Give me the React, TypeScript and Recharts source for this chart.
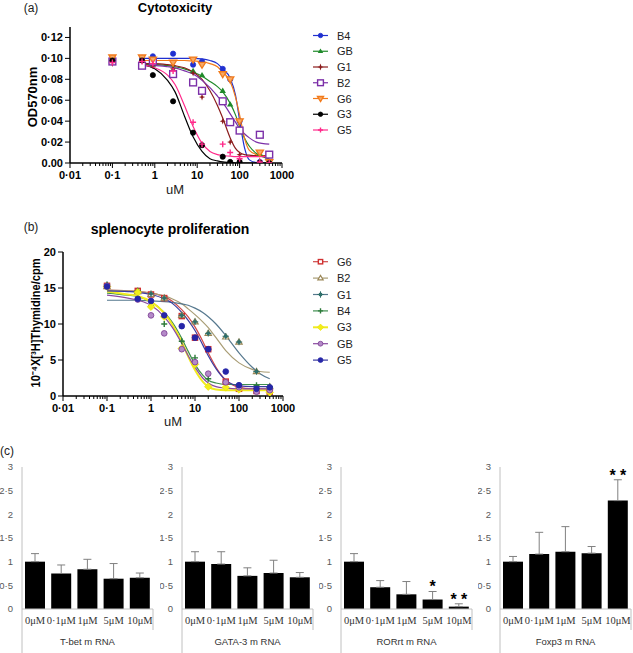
import React from 'react';
import { ComposedChart, Line, Scatter, XAxis, YAxis, Bar, ErrorBar } from 'recharts';

const SANS = '"Liberation Sans", Arial, sans-serif';
const SERIF = '"Liberation Serif", "Times New Roman", serif';

// ---------- panel (a): cytotoxicity ----------
const CONC_A = [0.1, 0.5, 0.9, 2.7, 8, 13, 40, 60, 100, 300, 500];
const PTS_A_B4 = [0.1, 0.1005, 0.102, 0.1045, 0.094, 0.097, 0.09, 0.08, 0.04, 0.001, 0.0];
const PTS_A_GB = [0.098, 0.094, 0.094, 0.089, 0.088, 0.084, 0.069, 0.056, 0.031, 0.009, 0.001];
const PTS_A_G1 = [0.095, 0.098, 0.093, 0.09, 0.086, 0.063, 0.04, 0.02, 0.008, 0.002, 0.001];
const PTS_A_B2 = [0.097, 0.093, 0.097, 0.085, 0.077, 0.069, 0.059, 0.039, 0.031, 0.027, 0.008];
const PTS_A_G6 = [0.101, 0.101, 0.099, 0.096, 0.099, 0.094, 0.085, 0.08, 0.04, 0.01, 0.001];
const PTS_A_G3 = [0.098, 0.098, 0.084, 0.059, 0.029, 0.017, 0.006, 0.001, 0.001, 0.0, 0.0];
const PTS_A_G5 = [0.096, 0.097, 0.095, 0.088, 0.039, 0.018, 0.018, 0.01, 0.004, 0.001, 0.0];

const FIT_X_A = [0.5, 1, 2, 3, 5, 8, 13, 20, 30, 40, 60, 80, 100, 130, 170, 250, 500];
const FIT_A_B4 = [0.1, 0.1, 0.1, 0.1, 0.1, 0.1, 0.0995, 0.098, 0.095, 0.09, 0.081, 0.065, 0.041, 0.015, 0.003, 0.0005, 0];
const FIT_A_GB = [0.094, 0.094, 0.093, 0.092, 0.09, 0.087, 0.083, 0.078, 0.073, 0.068, 0.057, 0.046, 0.035, 0.024, 0.016, 0.009, 0.004];
const FIT_A_G1 = [0.095, 0.095, 0.094, 0.093, 0.091, 0.087, 0.08, 0.069, 0.055, 0.043, 0.024, 0.014, 0.01, 0.008, 0.0075, 0.007, 0.007];
const FIT_A_B2 = [0.093, 0.093, 0.092, 0.091, 0.088, 0.085, 0.079, 0.072, 0.064, 0.058, 0.047, 0.039, 0.033, 0.028, 0.024, 0.02, 0.018];
const FIT_A_G6 = [0.098, 0.098, 0.098, 0.098, 0.098, 0.0975, 0.097, 0.095, 0.092, 0.087, 0.078, 0.063, 0.046, 0.024, 0.012, 0.008, 0.006];
const FIT_A_G3 = [0.094, 0.09, 0.079, 0.068, 0.045, 0.025, 0.011, 0.004, 0.002, 0.001, 0.0005, 0, 0, 0, 0, 0, 0];
const FIT_A_G5 = [0.094, 0.091, 0.084, 0.075, 0.055, 0.035, 0.019, 0.011, 0.008, 0.007, 0.0065, 0.006, 0.006, 0.006, 0.006, 0.006, 0.006];

const SERIES_A = [
  { name: 'B4', pts: PTS_A_B4, fit: FIT_A_B4, color: '#2030d0', kind: 'circle' },
  { name: 'GB', pts: PTS_A_GB, fit: FIT_A_GB, color: '#1f8a2a', kind: 'tri' },
  { name: 'G1', pts: PTS_A_G1, fit: FIT_A_G1, color: '#8b1c1c', kind: 'spark' },
  { name: 'B2', pts: PTS_A_B2, fit: FIT_A_B2, color: '#7b2fa8', kind: 'square' },
  { name: 'G6', pts: PTS_A_G6, fit: FIT_A_G6, color: '#f27a1a', kind: 'triDown', fill: '#f8aa66' },
  { name: 'G3', pts: PTS_A_G3, fit: FIT_A_G3, color: '#000000', kind: 'circle' },
  { name: 'G5', pts: PTS_A_G5, fit: FIT_A_G5, color: '#ff2a8a', kind: 'plus' },
];

const YTICKS_A = [0, 0.02, 0.04, 0.06, 0.08, 0.1, 0.12];
const YLABELS_A = ['0.00', '0·02', '0·04', '0·06', '0·08', '0·10', '0·12'];

// ---------- panel (b): splenocyte proliferation ----------
const CONC_B = [0.1, 0.5, 1, 2, 5, 10, 20, 50, 100, 250, 500];
const PTS_B_G6 = [15.3, 14.6, 14.1, 13.6, 11.1, 8.1, 6.5, 2.0, 1.0, 0.7, 0.6];
const PTS_B_B2 = [15.2, 14.5, 14.1, 13.6, 11.2, 10.3, 8.7, 8.2, 7.5, 3.4, 1.3];
const PTS_B_G1 = [15.5, 14.6, 14.2, 13.6, 11.2, 10.3, 8.7, 8.3, 7.5, 3.4, 1.3];
const PTS_B_B4 = [15.4, 14.6, 12.5, 10.0, 7.6, 5.3, 2.4, 1.9, 1.5, 1.5, 1.2];
const PTS_B_G3 = [15.2, 14.4, 12.4, 11.0, 6.6, 4.4, 1.3, 1.2, 0.9, 0.8, 0.5];
const PTS_B_GB = [15.3, 13.4, 11.2, 8.7, 6.5, 4.7, 3.1, 1.9, 1.2, 0.6, 0.8];
const PTS_B_G5 = [15.2, 13.5, 13.2, 11.2, 9.7, 8.1, 6.5, 3.4, 1.5, 1.0, 1.2];

const FIT_X_B = [0.1, 0.3, 0.5, 1, 2, 3, 5, 7, 10, 15, 20, 30, 50, 100, 200, 300, 500];
const FIT_B_G6 = [14.7, 14.6, 14.5, 14.3, 13.8, 13.2, 12.0, 11.0, 9.6, 7.6, 6.0, 4.0, 2.2, 1.2, 1.0, 1.0, 1.0];
const FIT_B_B2 = [14.7, 14.6, 14.5, 14.3, 13.9, 13.5, 12.8, 12.1, 11.3, 10.3, 9.5, 8.1, 6.3, 4.6, 3.7, 3.4, 3.3];
const FIT_B_G1 = [13.3, 13.3, 13.3, 13.2, 13.1, 13.0, 12.8, 12.6, 12.2, 11.6, 11.0, 10.0, 8.4, 6.0, 4.0, 3.1, 2.4];
const FIT_B_B4 = [14.3, 14.0, 13.8, 13.1, 11.6, 10.3, 8.0, 6.2, 4.4, 2.9, 2.2, 1.8, 1.6, 1.6, 1.6, 1.6, 1.6];
const FIT_B_G3 = [14.5, 14.1, 13.9, 13.1, 11.5, 10.0, 7.5, 5.5, 3.6, 2.0, 1.3, 0.9, 0.8, 0.8, 0.8, 0.8, 0.8];
const FIT_B_GB = [14.0, 13.6, 13.3, 12.6, 11.0, 9.6, 7.3, 5.6, 4.0, 2.5, 1.8, 1.3, 1.1, 1.0, 1.0, 1.0, 1.0];
const FIT_B_G5 = [14.6, 14.5, 14.4, 14.1, 13.5, 12.9, 11.6, 10.5, 9.1, 7.1, 5.6, 3.8, 2.2, 1.4, 1.3, 1.3, 1.3];

const SERIES_B = [
  { name: 'G6', pts: PTS_B_G6, fit: FIT_B_G6, color: '#d03030', line: '#d04848', kind: 'square', s: 0.75 },
  { name: 'B2', pts: PTS_B_B2, fit: FIT_B_B2, color: '#9a8656', line: '#a89c74', kind: 'triOpen' },
  { name: 'G1', pts: PTS_B_G1, fit: FIT_B_G1, color: '#2f6f6a', line: '#56788e', kind: 'star' },
  { name: 'B4', pts: PTS_B_B4, fit: FIT_B_B4, color: '#2d7a3a', line: '#3f8f50', kind: 'plus' },
  { name: 'G3', pts: PTS_B_G3, fit: FIT_B_G3, color: '#f3ee1a', line: '#f0ea20', kind: 'diamond' },
  { name: 'GB', pts: PTS_B_GB, fit: FIT_B_GB, color: '#7a3a90', line: '#8a4aa0', kind: 'circle', fill: '#b48ac8', s: 1.1 },
  { name: 'G5', pts: PTS_B_G5, fit: FIT_B_G5, color: '#2626a8', line: '#3a3aa0', kind: 'circle', s: 1.1 },
];

const YTICKS_B = [0, 5, 10, 15, 20];

// shared log axis ticks
const DECADES = [0.01, 0.1, 1, 10, 100, 1000];
const DECADE_LABELS = ['0·01', '0·1', '1', '10', '100', '1000'];
const MINOR: number[] = [];
DECADES.slice(0, -1).forEach((d) => {
  for (let m = 2; m <= 9; m++) MINOR.push(d * m);
});
const LOG_TICKS = [...DECADES, ...MINOR].sort((p, q) => p - q);

// ---------- panel (c): mRNA bars ----------
const DOSES = ['0μM', '0·1μM', '1μM', '5μM', '10μM'];
const TBET = [1.0, 0.75, 0.84, 0.64, 0.66];
const TBET_ERR = [0.17, 0.18, 0.21, 0.32, 0.1];
const GATA3 = [1.0, 0.95, 0.7, 0.76, 0.67];
const GATA3_ERR = [0.21, 0.26, 0.17, 0.27, 0.1];
const RORRT = [1.0, 0.46, 0.31, 0.2, 0.05];
const RORRT_ERR = [0.17, 0.14, 0.27, 0.17, 0.06];
const RORRT_SIG = ['', '', '', '*', '* *'];
const FOXP3 = [1.0, 1.16, 1.21, 1.18, 2.29];
const FOXP3_ERR = [0.11, 0.46, 0.53, 0.14, 0.44];
const FOXP3_SIG = ['', '', '', '', '* *'];
const NO_SIG = ['', '', '', '', ''];
const YTICKS_C = [0, 0.5, 1, 1.5, 2, 2.5, 3];

const GENES = [
  { title: 'T-bet m RNA', vals: TBET, err: TBET_ERR, sig: NO_SIG, axisX: 22 },
  { title: 'GATA-3 m RNA', vals: GATA3, err: GATA3_ERR, sig: NO_SIG, axisX: 182 },
  { title: 'RORrt m RNA', vals: RORRT, err: RORRT_ERR, sig: RORRT_SIG, axisX: 341 },
  { title: 'Foxp3 m RNA', vals: FOXP3, err: FOXP3_ERR, sig: FOXP3_SIG, axisX: 500 },
];

// ---------- markers ----------
function Marker({ kind, cx, cy, color, fill, s = 1 }: any) {
  if (cx == null || cy == null || isNaN(cx) || isNaN(cy)) return null;
  switch (kind) {
    case 'circle':
      return <circle cx={cx} cy={cy} r={2.6 * s} fill={fill ?? color} stroke={color} strokeWidth={0.8} />;
    case 'tri': {
      const r = 3.2 * s;
      return <polygon points={`${cx},${cy - r} ${cx + r},${cy + r * 0.65} ${cx - r},${cy + r * 0.65}`} fill={color} />;
    }
    case 'triOpen': {
      const r = 3.2 * s;
      return <polygon points={`${cx},${cy - r} ${cx + r},${cy + r * 0.65} ${cx - r},${cy + r * 0.65}`} fill="#fff" stroke={color} strokeWidth={1.1} />;
    }
    case 'triDown': {
      const r = 3.6 * s;
      return <polygon points={`${cx},${cy + r} ${cx + r},${cy - r * 0.65} ${cx - r},${cy - r * 0.65}`} fill={fill} stroke={color} strokeWidth={1.3} />;
    }
    case 'square': {
      const h = 3.4 * s;
      return <rect x={cx - h} y={cy - h} width={2 * h} height={2 * h} fill="#fff" stroke={color} strokeWidth={1.4} />;
    }
    case 'plus': {
      const h = 3 * s;
      return <path d={`M${cx - h},${cy}H${cx + h}M${cx},${cy - h}V${cy + h}`} stroke={color} strokeWidth={1.4} />;
    }
    case 'spark':
      return (
        <path
          d={`M${cx},${cy - 3.4} L${cx + 1.2},${cy} L${cx},${cy + 3.4} L${cx - 1.2},${cy} Z M${cx - 3.1},${cy} L${cx},${cy - 1.1} L${cx + 3.1},${cy} L${cx},${cy + 1.1} Z`}
          fill={color}
        />
      );
    case 'star':
      return (
        <g>
          <circle cx={cx} cy={cy} r={1.9} fill={color} />
          <path d={`M${cx - 3.2},${cy}H${cx + 3.2}M${cx},${cy - 3.2}V${cy + 3.2}`} stroke={color} strokeWidth={1} />
        </g>
      );
    case 'diamond': {
      const r = 3.8 * s;
      return <polygon points={`${cx},${cy - r} ${cx + r},${cy} ${cx},${cy + r} ${cx - r},${cy}`} fill={color} stroke="#e8e000" strokeWidth={0.6} />;
    }
    default:
      return null;
  }
}

// ---------- axis ticks ----------
const LogTick = (props: any) => {
  const { x, y, payload } = props;
  const i = DECADES.indexOf(payload.value);
  const major = i >= 0;
  return (
    <g>
      <line x1={x} x2={x} y1={y} y2={y + (major ? 5 : 3)} stroke="#000" strokeWidth={1} />
      {major && (
        <text x={x} y={y + 16} textAnchor="middle" fontFamily={SANS} fontWeight="bold" fontSize={11} fill="#000">
          {DECADE_LABELS[i]}
        </text>
      )}
    </g>
  );
};

const makeYTick = (labels?: string[], ticks?: number[]) => (props: any) => {
  const { x, y, payload } = props;
  const label = labels && ticks ? labels[ticks.indexOf(payload.value)] : String(payload.value);
  return (
    <g>
      <line x1={x - 5} x2={x} y1={y} y2={y} stroke="#000" strokeWidth={1} />
      <text x={x - 7} y={y + 4} textAnchor="end" fontFamily={SANS} fontWeight="bold" fontSize={11} fill="#000">
        {label}
      </text>
    </g>
  );
};

// ---------- dose-response panel ----------
function DosePanel({ series, conc, fitX, yMax, yTicks, yTick, width, height, margin, lineWidth }: any) {
  return (
    <ComposedChart width={width} height={height} margin={margin}>
      <XAxis
        type="number"
        dataKey="x"
        scale="log"
        domain={[0.01, 1000]}
        allowDataOverflow
        ticks={LOG_TICKS}
        interval={0}
        tick={<LogTick />}
        tickLine={false}
        tickSize={0}
        tickMargin={0}
        height={30}
        axisLine={{ stroke: '#000', strokeWidth: 1.5 }}
      />
      <YAxis
        type="number"
        dataKey="y"
        domain={[0, yMax]}
        allowDataOverflow
        ticks={yTicks}
        interval={0}
        tick={yTick}
        tickLine={false}
        tickSize={0}
        tickMargin={0}
        width={40}
        axisLine={{ stroke: '#000', strokeWidth: 1.5 }}
      />
      {series.map((s: any) => (
        <Line
          key={'fit' + s.name}
          data={s.fit.map((y: number, i: number) => ({ x: fitX[i], y }))}
          dataKey="y"
          type="monotone"
          stroke={s.line ?? s.color}
          strokeWidth={s.name === 'G3' && s.line ? 2 : lineWidth}
          dot={false}
          activeDot={false}
          isAnimationActive={false}
        />
      ))}
      {series.map((s: any) => (
        <Scatter
          key={'pts' + s.name}
          data={s.pts.map((y: number, i: number) => ({ x: conc[i], y }))}
          dataKey="y"
          isAnimationActive={false}
          shape={(p: any) => <Marker kind={s.kind} cx={p.cx} cy={p.cy} color={s.color} fill={s.fill} s={s.s ?? 1} />}
        />
      ))}
    </ComposedChart>
  );
}

// ---------- bar panel ----------
function GenePanel({ gene }: any) {
  const data = DOSES.map((dose, i) => ({
    dose,
    v: gene.vals[i],
    e: [0, gene.err[i]],
    top: gene.vals[i] + gene.err[i],
    sig: gene.sig[i],
  }));
  return (
    <ComposedChart width={155} height={193} data={data} margin={{ top: 7, right: 2, bottom: 24, left: 0 }}>
      <XAxis
        dataKey="dose"
        interval={0}
        tickLine={false}
        axisLine={{ stroke: '#c0c0c0' }}
        height={20}
        tick={{ fontFamily: SERIF, fontSize: 10.5, fill: '#333' }}
      />
      <YAxis
        type="number"
        domain={[0, 3]}
        ticks={YTICKS_C}
        interval={0}
        width={22}
        tickLine={false}
        tickMargin={3}
        axisLine={{ stroke: '#c0c0c0' }}
        tickFormatter={(v: number) => String(v).replace('.', '·')}
        tick={{ fontFamily: SANS, fontSize: 9.5, fill: '#595959' }}
      />
      <Bar dataKey="v" fill="#000" barSize={20} isAnimationActive={false}>
        <ErrorBar dataKey="e" width={4} stroke="#808080" strokeWidth={1} direction="y" />
      </Bar>
      <Scatter
        dataKey="top"
        isAnimationActive={false}
        shape={(p: any) =>
          p.payload && p.payload.sig ? (
            <text x={p.cx} y={p.cy + 1} textAnchor="middle" fontFamily={SANS} fontWeight="bold" fontSize={16} fill="#000">
              {p.payload.sig}
            </text>
          ) : (
            <g />
          )
        }
      />
    </ComposedChart>
  );
}

function LegendRows({ series, x, y0, dy }: any) {
  return (
    <g>
      {series.map((s: any, i: number) => {
        const y = y0 + i * dy;
        return (
          <g key={s.name}>
            <line x1={x} x2={x + 15} y1={y} y2={y} stroke={s.line ?? s.color} strokeWidth={s.name === 'G3' && s.line ? 2 : 1.2} />
            <Marker kind={s.kind} cx={x + 7.5} cy={y} color={s.color} fill={s.fill} s={(s.s ?? 1) * 0.85} />
            <text x={x + 24} y={y + 4} fontFamily={SANS} fontSize={11} fill="#222">
              {s.name}
            </text>
          </g>
        );
      })}
    </g>
  );
}

export default function App() {
  return (
    <div style={{ position: 'absolute', left: 0, top: 0, width: 633, height: 653, background: '#fff', overflow: 'hidden' }}>
      <div style={{ position: 'absolute', left: 0, top: 0 }}>
        <DosePanel
          series={SERIES_A}
          conc={CONC_A}
          fitX={FIT_X_A}
          yMax={0.13}
          yTicks={YTICKS_A}
          yTick={makeYTick(YLABELS_A, YTICKS_A)}
          width={300}
          height={200}
          margin={{ top: 27, right: 18, bottom: 7, left: 30 }}
          lineWidth={1.2}
        />
      </div>
      <div style={{ position: 'absolute', left: 0, top: 190 }}>
        <DosePanel
          series={SERIES_B}
          conc={CONC_B}
          fitX={FIT_X_B}
          yMax={20}
          yTicks={YTICKS_B}
          yTick={makeYTick()}
          width={300}
          height={240}
          margin={{ top: 62, right: 17, bottom: 4, left: 23 }}
          lineWidth={1.2}
        />
      </div>
      {GENES.map((g) => (
        <div key={g.title} style={{ position: 'absolute', left: g.axisX - 22, top: 460 }}>
          <GenePanel gene={g} />
        </div>
      ))}
      <svg width={633} height={653} style={{ position: 'absolute', left: 0, top: 0, pointerEvents: 'none' }}>
        <g fontFamily={SANS}>
          <text x={31} y={12} textAnchor="middle" fontSize={12} fill="#222">(a)</text>
          <text x={175} y={12} textAnchor="middle" fontSize={13} fontWeight="bold" fill="#000">Cytotoxicity</text>
          <text x={0} y={0} transform="translate(37,97) rotate(-90)" textAnchor="middle" fontSize={13} fontWeight="bold" fill="#000">OD570nm</text>
          <text x={175} y={194} textAnchor="middle" fontSize={13} fill="#222">uM</text>
          <LegendRows series={SERIES_A} x={313} y0={35.5} dy={15.75} />

          <text x={31} y={231} textAnchor="middle" fontSize={12} fill="#222">(b)</text>
          <text x={170} y={234} textAnchor="middle" fontSize={14} fontWeight="bold" fill="#000">splenocyte proliferation</text>
          <text x={0} y={0} transform="translate(40,323) rotate(-90)" textAnchor="middle" fontSize={12} fontWeight="bold" fill="#000" textLength={129} lengthAdjust="spacingAndGlyphs">
            10⁻⁴X[³H]Thymidine/cpm
          </text>
          <text x={173} y={426} textAnchor="middle" fontSize={13} fill="#222">uM</text>
          <LegendRows series={SERIES_B} x={313} y0={261.7} dy={16.4} />

          <text x={7} y={455} textAnchor="middle" fontSize={12} fill="#222">(c)</text>
          {GENES.map((g) => (
            <g key={'sep' + g.title}>
              <line x1={g.axisX} x2={g.axisX} y1={609} y2={653} stroke="#c0c0c0" />
              <line x1={g.axisX + 131} x2={g.axisX + 131} y1={609} y2={630} stroke="#c0c0c0" />
              <text x={g.axisX + 65.5} y={645} textAnchor="middle" fontSize={9.5} fill="#333">
                {g.title}
              </text>
            </g>
          ))}
        </g>
      </svg>
    </div>
  );
}
